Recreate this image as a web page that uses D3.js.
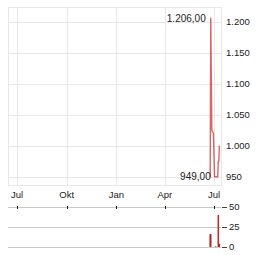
<!DOCTYPE html>
<html>
<head>
<meta charset="utf-8">
<script src="https://cdn.jsdelivr.net/npm/d3@7"></script>
<style>
body { margin: 0; background: #fff; }
svg text { font-family: "Liberation Sans", Arial, sans-serif; fill: #222; }
</style>
</head>
<body>
<svg id="chart" width="264" height="255"></svg>
<script>
// price series (close)
var priceDates = ["2025-06-24","2025-06-25","2025-06-27","2025-06-30","2025-07-02","2025-07-03",
                  "2025-07-07","2025-07-08","2025-07-09","2025-07-10","2025-07-11"];
var priceValues = [949, 1206, 1025, 1020, 950, 950, 950, 950, 975, 975, 1000];

// volume series
var volDates = ["2025-06-24","2025-06-25","2025-07-04","2025-07-09","2025-07-11"];
var volValues = [16, 16, 1, 40, 4];
var volColors = ["#b22222", "#b22222", "#22aa22", "#cc2222", "#cc2222"];

// axes
var monthTicks = ["2024-07-01","2024-10-01","2025-01-01","2025-04-01","2025-07-01"];
var monthLabels = ["Jul","Okt","Jan","Apr","Jul"];
var priceTicks = [950, 1000, 1050, 1100, 1150, 1200];
var volTicks = [0, 25, 50];

var de = d3.formatLocale({decimal: ",", thousands: ".", grouping: [3], currency: ["", " €"]});
var fmtTick = de.format(",.0f");
var fmtVal = de.format(",.2f");

var parse = d3.timeParse("%Y-%m-%d");

var pLeft = 8, pRight = 221, pTop = 7, pBottom = 185;
var vTop = 207, vBottom = 247;

var x = d3.scaleTime()
	.domain([new Date(2024, 5, 14, 8), new Date(2025, 6, 14)])
	.range([pLeft, pRight]);

var y = d3.scaleLinear()
	.domain([936.6, 1224.2])
	.range([pBottom, pTop]);

var yv = d3.scaleLinear()
	.domain([0, 50])
	.range([vBottom, vTop]);

var svg = d3.select("#chart");

// price grid
var grid = svg.append("g").attr("stroke", "#e8e8e8").attr("stroke-width", 1).attr("shape-rendering", "crispEdges");
grid.selectAll(".gy").data(priceTicks).enter().append("line")
	.attr("x1", pLeft).attr("x2", pRight)
	.attr("y1", function(d){ return Math.round(y(d)) + 0.5; })
	.attr("y2", function(d){ return Math.round(y(d)) + 0.5; });
grid.selectAll(".gx").data(monthTicks).enter().append("line")
	.attr("x1", function(d){ return Math.round(x(parse(d))) + 0.5; })
	.attr("x2", function(d){ return Math.round(x(parse(d))) + 0.5; })
	.attr("y1", pTop).attr("y2", pBottom);
grid.append("rect")
	.attr("x", pLeft + 0.5).attr("y", pTop + 0.5)
	.attr("width", pRight - pLeft).attr("height", pBottom - pTop)
	.attr("fill", "none");

// right price axis labels
svg.append("g").selectAll("text").data(priceTicks).enter().append("text")
	.attr("x", 226)
	.attr("y", function(d){ return y(d); })
	.attr("dy", "0.35em")
	.style("font-size", "9.5px")
	.text(fmtTick);

// month labels
svg.append("g").selectAll("text").data(monthTicks).enter().append("text")
	.attr("x", function(d){ return x(parse(d)); })
	.attr("y", 195)
	.attr("dy", "0.35em")
	.attr("text-anchor", "middle")
	.style("font-size", "9.5px")
	.text(function(d, i){ return monthLabels[i]; });

// price line
var pts = priceDates.map(function(d, i){ return {date: parse(d), value: priceValues[i]}; });
var line = d3.line()
	.x(function(d){ return x(d.date); })
	.y(function(d){ return y(d.value); });
svg.append("path")
	.datum(pts)
	.attr("d", line)
	.attr("fill", "none")
	.attr("stroke", "#cc3333")
	.attr("stroke-width", 1.4)
	.attr("stroke-opacity", 0.75)
	.attr("stroke-linejoin", "round");

// max / min annotations
var maxP = pts.reduce(function(a, b){ return b.value > a.value ? b : a; });
var minP = pts.reduce(function(a, b){ return b.value < a.value ? b : a; });
svg.append("text")
	.attr("x", x(maxP.date) - 5)
	.attr("y", y(maxP.value))
	.attr("dy", "0.35em")
	.attr("text-anchor", "end")
	.style("font-size", "10px")
	.text(fmtVal(maxP.value));
svg.append("text")
	.attr("x", x(minP.date) + 0.5)
	.attr("y", y(minP.value) - 1)
	.attr("dy", "0.35em")
	.attr("text-anchor", "end")
	.style("font-size", "10px")
	.text(fmtVal(minP.value));

// volume grid
var vg = svg.append("g").attr("shape-rendering", "crispEdges");
vg.selectAll("line.h").data(volTicks).enter().append("line")
	.attr("x1", pLeft).attr("x2", pRight)
	.attr("y1", function(d){ return Math.round(yv(d)) + 0.5; })
	.attr("y2", function(d){ return Math.round(yv(d)) + 0.5; })
	.attr("stroke", "#c8c8c8");
vg.selectAll("line.t").data(volTicks).enter().append("line")
	.attr("x1", 222).attr("x2", 227)
	.attr("y1", function(d){ return Math.round(yv(d)) + 0.5; })
	.attr("y2", function(d){ return Math.round(yv(d)) + 0.5; })
	.attr("stroke", "#444");
vg.selectAll("line.m").data(monthTicks).enter().append("line")
	.attr("x1", function(d){ return Math.round(x(parse(d))) + 0.5; })
	.attr("x2", function(d){ return Math.round(x(parse(d))) + 0.5; })
	.attr("y1", vTop - 1).attr("y2", vTop + 2)
	.attr("stroke", "#222");

svg.append("g").selectAll("text").data(volTicks).enter().append("text")
	.attr("x", 229)
	.attr("y", function(d){ return yv(d); })
	.attr("dy", "0.35em")
	.style("font-size", "9.5px")
	.text(function(d){ return d; });

// volume bars
svg.append("g").selectAll("rect").data(volValues).enter().append("rect")
	.attr("x", function(d, i){ return x(parse(volDates[i])) - 0.75; })
	.attr("width", 1.5)
	.attr("y", function(d){ return yv(d); })
	.attr("height", function(d){ return yv(0) - yv(d); })
	.attr("fill", function(d, i){ return volColors[i]; });
</script>
</body>
</html>
